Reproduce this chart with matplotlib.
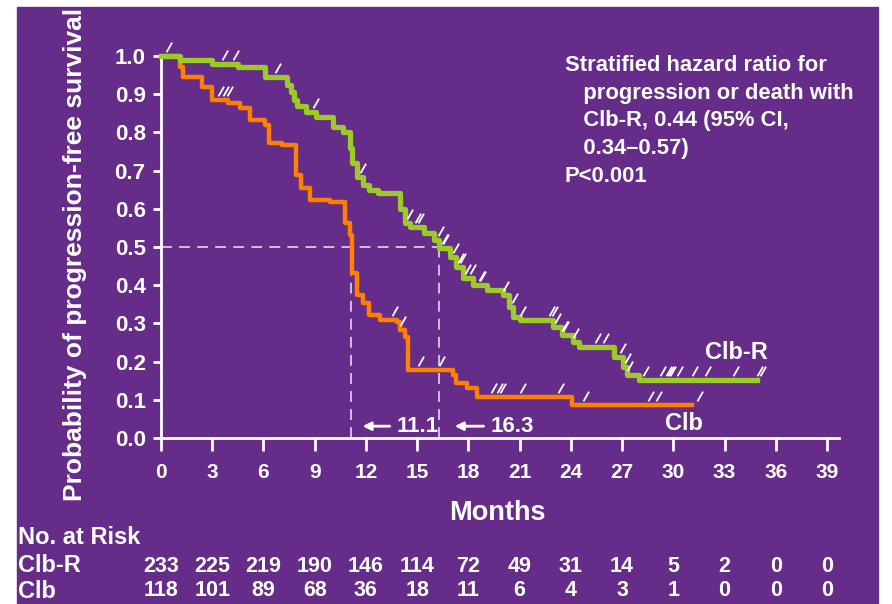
import matplotlib
matplotlib.use('Agg')
import matplotlib.pyplot as plt
import numpy as np
from matplotlib.patches import Rectangle
from matplotlib.path import Path
from matplotlib.transforms import blended_transform_factory

plt.rcParams['font.family'] = ['Liberation Sans', 'DejaVu Sans']
plt.rcParams['font.weight'] = 'bold'

# Kaplan-Meier steps (months, survival probability)
clbr_t = [0, 1.1, 3.0, 4.5, 6.1, 7.4, 7.6, 7.8, 7.95, 8.5, 9.1, 10.1, 10.65, 11.07, 11.2,
          11.5, 11.8, 12.2, 12.7, 14.0, 14.3, 14.6, 15.4, 16.0, 16.3, 16.9, 17.3, 17.7,
          18.3, 19.1, 20.0, 20.4, 20.6, 21.0, 22.95, 23.5, 24.1, 24.5, 26.5, 27.05, 27.3,
          28.0, 34.9]
clbr_s = [1.0, 0.99, 0.98, 0.97, 0.945, 0.925, 0.905, 0.885, 0.87, 0.853, 0.84, 0.815, 0.80,
          0.76, 0.72, 0.683, 0.662, 0.65, 0.641, 0.60, 0.563, 0.553, 0.537, 0.518, 0.497,
          0.474, 0.448, 0.418, 0.40, 0.387, 0.374, 0.343, 0.317, 0.309, 0.29, 0.27, 0.252,
          0.238, 0.212, 0.186, 0.165, 0.152, 0.152]

clb_t = [0, 1.1, 1.3, 2.4, 3.0, 3.9, 4.6, 5.2, 6.1, 6.3, 7.1, 7.9, 8.2, 8.7, 9.9, 10.8,
         11.05, 11.2, 11.5, 11.8, 12.2, 12.8, 13.8, 14.0, 14.3, 14.45, 17.1, 17.3, 17.9,
         18.5, 24.05, 31.1]
clb_s = [1.0, 0.97, 0.945, 0.92, 0.885, 0.876, 0.863, 0.832, 0.82, 0.772, 0.767, 0.688,
         0.655, 0.623, 0.618, 0.563, 0.531, 0.432, 0.374, 0.353, 0.322, 0.309, 0.304, 0.283,
         0.264, 0.178, 0.165, 0.144, 0.131, 0.107, 0.086, 0.086]

# censoring times
clbr_cens = [0.3, 3.6, 4.2, 6.7, 8.9, 11.65, 14.4, 14.9, 15.05, 16.2, 16.45, 16.5, 17.1,
             17.4, 17.5, 17.8, 18.1, 18.6, 18.7, 20.0, 20.55, 21.0, 22.7, 22.9, 23.1, 23.5,
             23.55, 24.1, 25.4, 25.9, 26.9, 27.2, 27.3, 28.2, 29.2, 29.6, 29.7, 29.8, 30.2,
             31.1, 31.85, 33.5, 34.9, 35.05]
clb_cens = [3.35, 3.65, 3.85, 13.5, 14.0, 15.05, 16.3, 19.3, 19.7, 19.85, 21.0, 23.25,
            24.7, 28.5, 29.0, 31.4]

median_clb = 11.1
median_clbr = 16.3

risk_months = list(range(0, 40, 3))
risk_clbr = [233, 225, 219, 190, 146, 114, 72, 49, 31, 14, 5, 2, 0, 0]
risk_clb = [118, 101, 89, 68, 36, 18, 11, 6, 4, 3, 1, 0, 0, 0]

purple = '#652D89'
green = '#9BCB24'
orange = '#FF8000'
dash_col = '#D9CBE6'

fig = plt.figure(figsize=(8.92, 6.04), dpi=100)
fig.patch.set_facecolor('white')
fig.add_artist(Rectangle((17 / 892, 0), 861 / 892, 597 / 604,
                         transform=fig.transFigure, color=purple, zorder=0))

ax = fig.add_axes([0.1805, 0.2748, 0.760, 0.6325])
ax.set_facecolor('none')


def surv_at(times, surv, t):
    i = np.searchsorted(times, t, side='right') - 1
    return np.array(surv)[i]


# median guides
ax.plot([0, median_clbr], [0.5, 0.5], color=dash_col, lw=1.3, dashes=(6, 4), zorder=1)
ax.plot([median_clb, median_clb], [0, 0.5], color=dash_col, lw=1.3, dashes=(6, 4), zorder=1)
ax.plot([median_clbr, median_clbr], [0, 0.5], color=dash_col, lw=1.3, dashes=(6, 4), zorder=1)

ax.step(clb_t, clb_s, where='post', color=orange, lw=3.2, zorder=3, clip_on=False)
ax.step(clbr_t, clbr_s, where='post', color=green, lw=3.8, zorder=4, clip_on=False)

tick = Path([(0.0, 0.3), (0.4, 1.0)])
ax.plot(clbr_cens, surv_at(clbr_t, clbr_s, clbr_cens), ls='none', marker=tick,
        markersize=20, mec='white', mew=1.3, zorder=5, clip_on=False)
ax.plot(clb_cens, surv_at(clb_t, clb_s, clb_cens), ls='none', marker=tick,
        markersize=20, mec='white', mew=1.3, zorder=5, clip_on=False)

# median arrows
arrow = dict(arrowstyle='-|>', color='white', lw=2, mutation_scale=12, shrinkA=3, shrinkB=0)
ax.annotate(f'{median_clb}', xy=(11.8, 0.031), xytext=(13.8, 0.031), color='white',
            fontsize=16, va='center', ha='left', arrowprops=arrow)
ax.annotate(f'{median_clbr}', xy=(17.2, 0.031), xytext=(19.3, 0.031), color='white',
            fontsize=16, va='center', ha='left', arrowprops=arrow)

ax.text(33.7, 0.225, 'Clb-R', color='white', fontsize=17, ha='center', va='center')
ax.text(30.6, 0.037, 'Clb', color='white', fontsize=17, ha='center', va='center')

ax.set_xlim(0, 39.7)
ax.set_ylim(0, 1.0)
ax.set_xticks(risk_months)
ax.set_yticks(np.arange(0, 1.01, 0.1))
ax.set_yticklabels([f'{v:.1f}' for v in np.arange(0, 1.01, 0.1)])
for side in ['top', 'right']:
    ax.spines[side].set_visible(False)
for side in ['left', 'bottom']:
    ax.spines[side].set_color('white')
    ax.spines[side].set_linewidth(2)
ax.tick_params(axis='x', colors='white', labelsize=15, width=2, length=9, pad=9)
ax.tick_params(axis='y', colors='white', labelsize=16, width=2, length=6, pad=5)

fig.text(75 / 892, 1 - 254 / 604, 'Probability of progression-free survival', color='white',
         fontsize=19, rotation=90, ha='center', va='center')
fig.text(497 / 892, 1 - 513 / 604, 'Months', color='white', fontsize=19.5,
         ha='center', va='center')

fig.text(565 / 892, 1 - 55 / 604,
         'Stratified hazard ratio for\n   progression or death with\n'
         '   Clb-R, 0.44 (95% CI,\n   0.34\u20130.57)\nP<0.001',
         color='white', fontsize=15.8, ha='left', va='top', linespacing=1.42)

# number at risk table
fig.text(18 / 892, 1 - 537 / 604, 'No. at Risk', color='white', fontsize=17,
         ha='left', va='center')
fig.text(18 / 892, 1 - 566 / 604, 'Clb-R', color='white', fontsize=17, ha='left', va='center')
fig.text(18 / 892, 1 - 591 / 604, 'Clb', color='white', fontsize=17, ha='left', va='center')
trans = blended_transform_factory(ax.transData, fig.transFigure)
for m, a, b in zip(risk_months, risk_clbr, risk_clb):
    ax.text(m, 1 - 566 / 604, str(a), color='white', fontsize=15.5, ha='center',
            va='center', transform=trans, clip_on=False)
    ax.text(m, 1 - 591 / 604, str(b), color='white', fontsize=15.5, ha='center',
            va='center', transform=trans, clip_on=False)

fig.savefig('out.png', dpi=100, facecolor=fig.get_facecolor())
